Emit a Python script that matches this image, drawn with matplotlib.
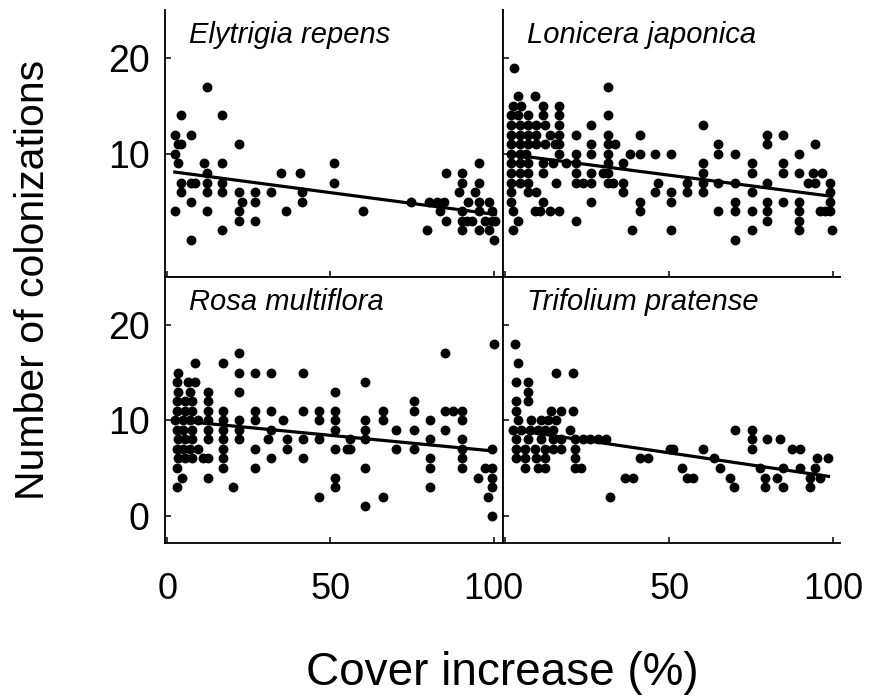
# Colonizations vs cover increase, four species panels
import numpy as np
import matplotlib
matplotlib.use("Agg")
from matplotlib import pyplot as plt

plt.rcParams['font.family'] = ['Liberation Sans', 'DejaVu Sans']

species = ["Elytrigia repens", "Lonicera japonica", "Rosa multiflora", "Trifolium pratense"]

# (cover increase %, [number of colonizations at that cover])
elytrigia_cols = [
    (2.3, [12, 10, 4]), (3.3, [11, 9]), (4.3, [14, 11, 7, 6]), (7.4, [12, 7, 5, 1]),
    (8.4, [7]), (11.3, [9]), (12.3, [17, 8, 7, 6, 4]), (16.9, [14, 9, 7, 6, 2]),
    (22.0, [11, 6, 4, 3]), (23.0, [5]), (26.8, [6, 5, 3]), (31.7, [6]), (34.7, [8]),
    (36.5, [4]), (40.6, [8]), (41.4, [6, 5]), (51.0, [9, 7]), (60.0, [4]), (74.7, [5]),
    (79.5, [2]), (80.2, [5]), (82.6, [5]), (83.6, [4]), (84.8, [5]), (85.5, [8, 3]),
    (89.3, [6]), (90.3, [8, 7, 4, 3, 2]), (91.8, [3]), (92.3, [5]), (93.4, [3]),
    (94.4, [6]), (95.4, [9, 7, 5, 4, 2]), (97.4, [3]), (98.5, [5, 2]), (99.5, [4, 3]),
    (100.0, [1]), (100.5, [3]),
]

lonicera_cols = [
    (1.9, [14, 13, 12, 11, 10, 9, 8, 7, 6, 5]), (2.4, [15, 4, 2]), (2.9, [19]),
    (4.0, [16, 14, 3]), (4.5, [13, 12, 11, 10, 9, 8, 7]), (5.0, [15]), (6.5, [10]),
    (7.0, [14, 13, 12, 11, 9, 8, 7, 6]), (9.0, [16, 4]), (9.5, [13, 12, 11, 6]),
    (10.6, [4]), (11.6, [15, 14, 9, 8, 5]), (12.1, [13, 11]), (13.6, [12, 4]),
    (14.6, [9]), (15.1, [11]), (15.6, [7]), (16.6, [15, 14, 13, 12, 11, 10, 4]),
    (18.7, [9]), (21.5, [12, 10, 9, 8, 7, 3]), (23.8, [7]), (26.3, [13, 11, 10, 8, 7, 5]),
    (29.8, [8]), (31.3, [17, 14, 12, 11, 10, 9, 8, 7]), (32.9, [7]), (33.4, [11]),
    (35.9, [9, 7, 6]), (38.2, [10]), (38.8, [2]), (41.1, [12, 10, 5, 4]),
    (45.7, [10, 6]), (46.7, [7]), (50.7, [10, 6, 5, 2]), (55.5, [7, 6]),
    (60.4, [13, 9, 8, 7, 6]), (65.0, [11, 10, 7, 4]), (70.0, [10, 7, 5, 4, 1]),
    (75.1, [9, 8, 6, 4, 2]), (79.7, [12, 11, 7, 5, 4, 3]), (84.8, [12, 9, 8, 5]),
    (89.5, [10, 8, 5, 4, 3, 2]), (92.4, [7]), (93.9, [8]), (94.4, [11, 7]), (96.0, [4]),
    (96.4, [8]), (97.5, [4]), (99.0, [7, 6, 5, 4]), (99.5, [2]),
]

rosa_cols = [
    (2.4, [10]), (2.9, [14, 12, 11, 9, 7, 5, 3]), (3.4, [15, 13, 8, 6]), (4.4, [4]),
    (4.9, [10, 9, 7]), (5.4, [12, 11, 8, 6]), (6.4, [14]), (7.0, [13, 10, 7]),
    (7.5, [12, 11, 9, 8, 6]), (8.5, [16, 14]), (9.5, [10, 7]), (11.0, [6]),
    (12.4, [13, 12, 11, 10, 9, 8, 6, 4]), (17.2, [16, 11, 10, 9, 8, 7, 6, 5]),
    (20.2, [3]), (22.0, [17, 15, 13, 10, 9, 8]), (26.8, [15, 11, 10, 7, 5]),
    (31.0, [8]), (31.8, [15, 11, 9, 6]), (35.6, [10]), (36.6, [8, 7]),
    (41.5, [15, 11, 8, 6]), (46.6, [11, 10, 8, 2]), (51.4, [13, 11, 10, 9, 7, 4, 3]),
    (55.0, [7]), (56.0, [8, 7]), (60.6, [14, 10, 9, 8, 5, 1]), (66.0, [11, 10, 2]),
    (70.1, [9, 7]), (75.7, [12, 11, 9, 7]), (80.6, [10, 8, 6, 5, 3]), (85.2, [17, 11, 9]),
    (87.7, [11]), (90.3, [11, 10, 8, 7, 6, 5]), (95.1, [4]), (97.4, [5]), (98.2, [2]),
    (99.5, [7, 5, 4, 3, 0]), (100.0, [18]),
]

trifolium_cols = [
    (2.4, [9]), (3.2, [18]), (3.5, [14, 12, 11, 8, 7, 6]), (4.0, [16, 10]), (5.0, [9]),
    (6.0, [7, 6, 5]), (7.0, [14, 13, 12, 8]), (7.5, [9]), (8.0, [10]), (9.0, [7]),
    (9.5, [6]), (10.0, [9, 5]), (11.1, [10, 8]), (12.1, [9, 7, 6, 5]), (13.1, [10]),
    (14.1, [11]), (14.6, [9, 8, 7]), (15.6, [15, 10]), (17.2, [11, 8, 7]), (19.7, [9]),
    (20.6, [15, 11]), (21.2, [8, 7, 6, 5]), (23.2, [5]), (23.8, [8]), (25.8, [8]),
    (28.3, [8]), (30.9, [8]), (31.9, [2]), (36.5, [4]), (39.0, [4]), (41.1, [6]),
    (43.7, [6]), (50.3, [7]), (51.3, [7]), (53.8, [5]), (55.3, [4]), (57.4, [4]),
    (60.4, [7]), (63.5, [6]), (65.5, [5]), (68.5, [4]), (69.6, [3]), (70.0, [9]),
    (75.1, [9, 8, 7]), (77.7, [5]), (79.2, [4, 3]), (79.7, [8]), (82.7, [4]), (83.8, [8]),
    (84.8, [5, 3]), (87.3, [7]), (89.8, [7, 5]), (92.9, [4, 3]), (94.4, [5]), (94.9, [6]),
    (95.9, [4]), (98.5, [6]),
]

# regression lines
fit_intercept = [8.2, 10.0, 10.06, 9.13]
fit_slope = [-0.045, -0.0446, -0.0328, -0.0508]


def expand(cols):
    xs, ys = [], []
    for x, yl in cols:
        for y in yl:
            xs.append(x)
            ys.append(y)
    return np.array(xs), np.array(ys)


fig = plt.figure(figsize=(8.69, 7.0), dpi=100)
positions = [
    [0.1899, 0.6043, 0.389, 0.3814],
    [0.5788, 0.6043, 0.3878, 0.3814],
    [0.1899, 0.2243, 0.389, 0.3800],
    [0.5788, 0.2243, 0.3878, 0.3800],
]
all_cols = [elytrigia_cols, lonicera_cols, rosa_cols, trifolium_cols]

for i, cols in enumerate(all_cols):
    ax = fig.add_axes(positions[i])
    x, y = expand(cols)
    ax.plot(x, y, 'o', color='black', markersize=7.1, markeredgewidth=0, zorder=3)
    lx = np.array([x.min(), x.max()])
    ax.plot(lx, fit_intercept[i] + fit_slope[i] * lx, color='black', lw=2.3, zorder=4)

    if i % 2 == 0:
        ax.set_xlim(-0.7, 102.9)
    else:
        ax.set_xlim(-0.6, 102.0)
    ax.set_ylim(-2.85, 25.0)

    for sp in ax.spines.values():
        sp.set_linewidth(1.3)
    ax.spines['top'].set_visible(i >= 2)
    ax.spines['right'].set_visible(i % 2 == 0)

    ax.set_xticks([0, 50, 100])
    ax.set_yticks([10, 20] if i < 2 else [0, 10, 20])
    ax.tick_params(direction='in', length=4, width=1.1)
    ax.tick_params(axis='y', labelsize=27, pad=11)
    ax.tick_params(axis='x', labelsize=26, pad=21)

    if i % 2 == 1:
        ax.set_yticklabels([])
    if i < 2:
        ax.set_xticklabels([])
    elif i == 3:
        ax.set_xticklabels(['', '50', '100'])

    ax.text(0.07, 0.905, species[i], transform=ax.transAxes, style='italic',
            fontsize=21, va='center', ha='left')

fig.text(0.038, 0.60, 'Number of colonizations', rotation=90, fontsize=29.5,
         ha='center', va='center')
fig.text(0.578, 0.0386, 'Cover increase (%)', fontsize=33, ha='center', va='center')

fig.savefig('out.png', dpi=100)
